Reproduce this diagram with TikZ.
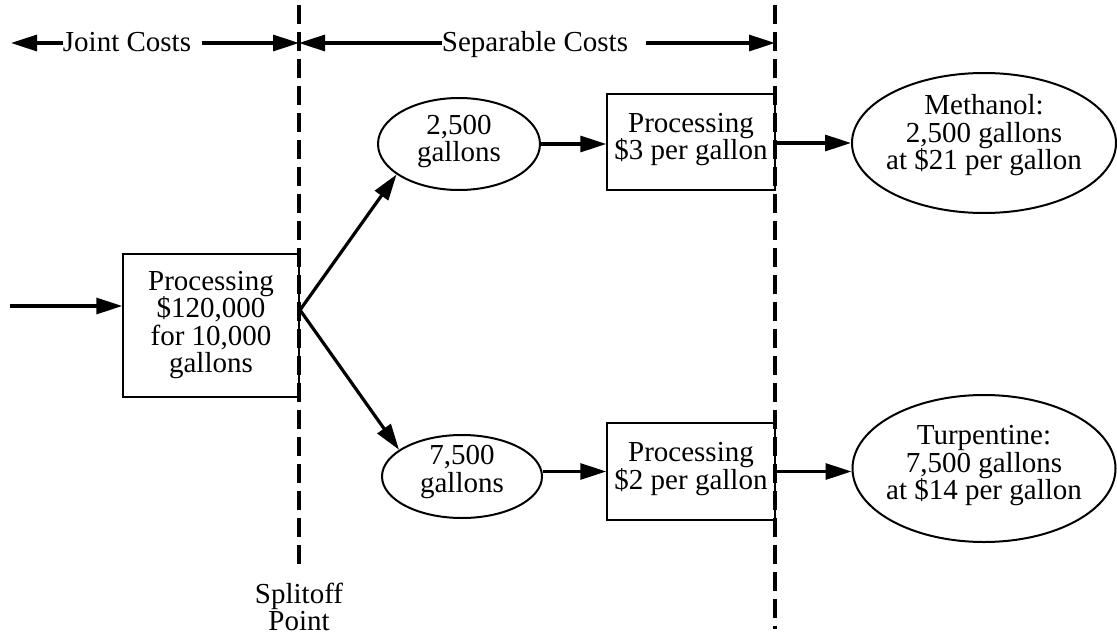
\documentclass[tikz,border=0pt]{standalone}
\usepackage{fontspec}
\setmainfont{Liberation Serif}
\usetikzlibrary{arrows.meta,shapes.geometric,calc}
\begin{document}
\begin{tikzpicture}[x=1pt,y=-1pt,
  txt/.style={font=\fontsize{29}{27.5}\selectfont, align=center, inner sep=0pt},
  boxn/.style={draw, line width=1.5pt, rectangle, inner sep=0pt},
  elln/.style={draw, line width=2pt, ellipse, inner sep=0pt},
  arr/.style={line width=3.2pt, -{Triangle[length=26pt,width=16pt]}},
  divider/.style={line width=3.4pt, dash pattern=on 19pt off 8pt}]
\useasboundingbox (0,0) rectangle (1117,637);

% shapes
\node[boxn, minimum width=176pt, minimum height=143pt] (p1) at (211,325.5) {};
\node[boxn, minimum width=168pt, minimum height=96pt] (p2) at (691,142) {};
\node[boxn, minimum width=168pt, minimum height=97pt] (p3) at (691,471.5) {};
\node[elln, minimum width=162pt, minimum height=92pt] (e1) at (459,144) {};
\node[elln, minimum width=160pt, minimum height=83pt] (e2) at (462,476.5) {};
\node[elln, minimum width=264pt, minimum height=140pt] (e3) at (984,143) {};
\node[elln, minimum width=263pt, minimum height=147pt] (e4) at (984,468.5) {};

% texts
\node[txt] (t1) at (211,325) {Processing\\\$120,000\\for 10,000\\gallons};
\node[txt] (t2) at (691,139.5) {Processing\\\$3 per gallon};
\node[txt] (t3) at (691,469) {Processing\\\$2 per gallon};
\node[txt] (te1) at (459,141.5) {2,500\\gallons};
\node[txt] (te2) at (462,472) {7,500\\gallons};
\node[txt] (te3) at (984,135.5) {Methanol:\\2,500 gallons\\at \$21 per gallon};
\node[txt] (te4) at (984,466) {Turpentine:\\7,500 gallons\\at \$14 per gallon};
\node[txt] (split) at (299,607) {Splitoff\\Point};
\node[txt, anchor=base] (jc) at (127,51) {Joint Costs};
\node[txt, anchor=base] (sc) at (535,51) {Separable Costs};

% coordinates
\coordinate (lend) at (11,43);
\coordinate (s1) at (299,43);
\coordinate (s2) at (775,43);
\coordinate (in) at (10,306);
\coordinate (sp) at (300,310);
\coordinate (d1t) at (299,5);
\coordinate (d1b) at (299,568);
\coordinate (d2t) at (775,5);
\coordinate (d2b) at (775,629);

% dividers
\draw[divider] (d1t) -- (d1b);
\draw[divider] (d2t) -- (d2b);

% top cost arrows
\draw[arr] (jc.west |- s1) -- (lend);
\draw[arr] ([xshift=11pt]jc.east |- s1) -- (s1);
\draw[arr] (sc.west |- s1) -- (s1);
\draw[arr] ([xshift=18pt]sc.east |- s2) -- (s2);

% flow arrows
\draw[arr] (in) -- (in -| p1.west);
\draw[arr] (sp) -- (e1.206);
\draw[arr] (sp) -- (e2.157);
\draw[arr] (e1.east) -- (e1.east -| p2.west);
\draw[arr] (p3.west -| e2.east) -- (p3.west);
\draw[arr] (e3.west -| p2.east) -- (e3.west);
\draw[arr] (p3.east) -- (p3.east -| e4.west);
\end{tikzpicture}
\end{document}
